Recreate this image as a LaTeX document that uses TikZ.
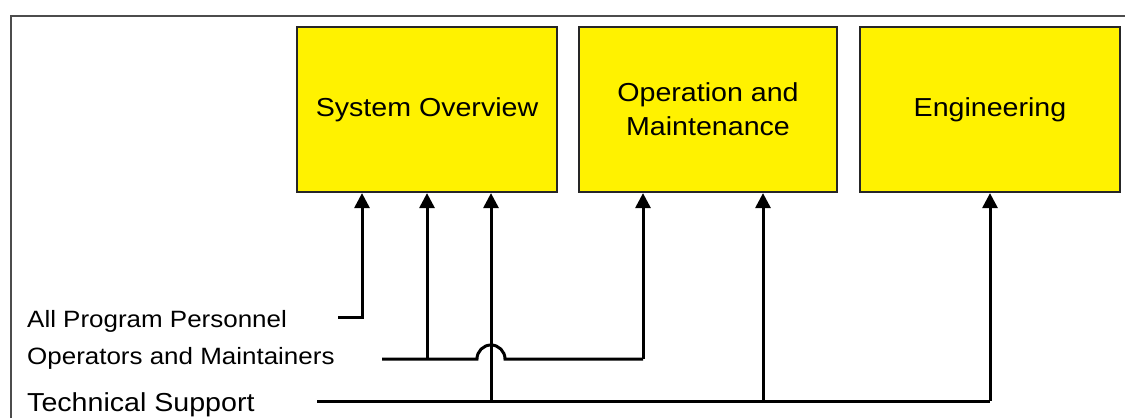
\documentclass[tikz,border=0pt]{standalone}
\usepackage{fontspec}
\setmainfont[FakeStretch=1.1]{Liberation Sans}
\usetikzlibrary{arrows.meta}
\begin{document}
\begin{tikzpicture}[x=1pt,y=-1pt,
  unit/.style={draw=black!85,line width=2.2pt,fill=yellow,minimum width=260pt,
    minimum height=165pt,inner sep=0pt,align=center,
    font=\fontsize{26}{34}\selectfont},
  lab/.style={anchor=base west,inner sep=0pt,font=\fontsize{23.6}{28}\selectfont},
  biglab/.style={anchor=base west,inner sep=0pt,font=\fontsize{26}{30}\selectfont},
  wire/.style={line width=3pt,black},
  arr/.style={wire,-{Triangle[width=15pt,length=15pt]}}]
\useasboundingbox (0,0) rectangle (1125,418);
\fill[white] (0,0) rectangle (1125,418);
% frame
\draw[line width=2pt,black!70] (11,418) -- (11,16) -- (1125,16);
% boxes
\node[unit] (so) at (427,109.5) {System Overview};
\node[unit,minimum width=258pt] (om) at (708,109.5) {Operation and\\Maintenance};
\node[unit] (en) at (990,109.5) {Engineering};
% labels
\node[lab] (ap) at (27,327) {All Program Personnel};
\node[lab] (op) at (27,364) {Operators and Maintainers};
\node[biglab] (ts) at (27,411) {Technical Support};
% line starts
\coordinate (apS) at (338,317);
\coordinate (opS) at (382,359);
\coordinate (tsS) at (317,401);
% All Program Personnel
\draw[arr] (apS) -| ([xshift=-65pt]so.south);
% Operators and Maintainers
\draw[wire] (opS) -- (477,359) arc[start angle=180,end angle=360,radius=14] -- (643,359);
\draw[arr] (643,359) -- ([xshift=-65pt]om.south);
\draw[arr] (so.south |- opS) -- (so.south);
% Technical Support
\draw[wire] (tsS) -- (en.south |- tsS);
\draw[arr] (en.south |- tsS) -- (en.south);
\draw[arr] ([xshift=64pt]so.south |- tsS) -- ([xshift=64pt]so.south);
\draw[arr] ([xshift=55pt]om.south |- tsS) -- ([xshift=55pt]om.south);
\end{tikzpicture}
\end{document}
